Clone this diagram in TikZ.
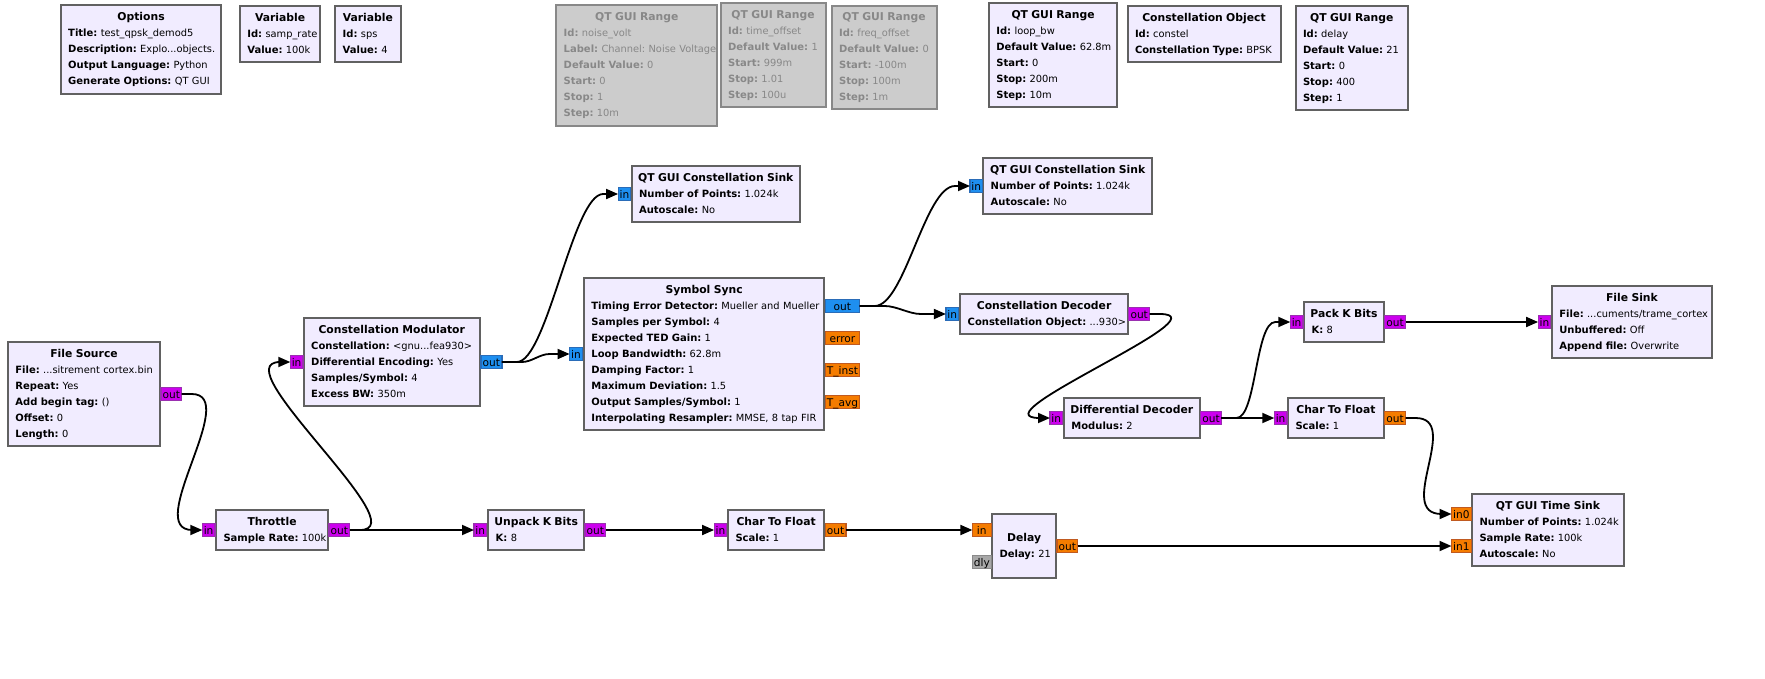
\documentclass[tikz,border=0pt]{standalone}
\usepackage{fontspec}
\setmainfont{DejaVu Sans}
\usetikzlibrary{arrows.meta}
\frenchspacing

\definecolor{blockbg}{HTML}{F1ECFF}
\definecolor{blockedge}{HTML}{616161}
\definecolor{cplxfill}{HTML}{1E8FF0}
\definecolor{cplxedge}{HTML}{2A6CB8}
\definecolor{bytefill}{HTML}{CC00EE}
\definecolor{byteedge}{HTML}{9A30B0}
\definecolor{fltfill}{HTML}{F57C00}
\definecolor{fltedge}{HTML}{C05A20}
\definecolor{msgfill}{HTML}{A8A8A8}
\definecolor{msgedge}{HTML}{8A8A8A}
\definecolor{offfill}{HTML}{CCCCCC}
\definecolor{offtext}{HTML}{888888}

\newcommand{\btitle}[1]{\makebox[\hsize][c]{\strut\fontsize{10.8}{16}\selectfont\textbf{#1}}\par}
\newcommand{\brow}[2]{\mbox{\strut\textbf{#1:} {\fontsize{9.85}{16}\selectfont #2}}\par}

\begin{document}
\begin{tikzpicture} [
    x=1pt, y=-1pt,
    every node/.style = { font=\fontsize{10}{16}\selectfont, outer sep=0pt },
    block/.style 2 args = { rectangle, draw=blockedge, fill=blockbg, line width=2pt,
                        anchor=north west, inner xsep=7.5pt, inner ysep=0pt, align=left,
                        xshift=-0.8pt, yshift=0.8pt,
                        minimum width=#1+1.6, minimum height=#2+1.6,
                        /utils/exec={\pgfmathsetmacro\blockw{#1-13.4}}, text width=\blockw pt },
    off/.style      = { fill=offfill, draw=offtext, text=offtext },
    port/.style     = { rectangle, line width=1.2pt, anchor=north west, inner sep=0pt,
                        font=\fontsize{10.6}{16}\selectfont,
                        minimum height=13.4, text height=10pt, text depth=2pt, minimum width=#1 },
    cport/.style    = { port=#1, fill=cplxfill, draw=cplxedge },
    bport/.style    = { port=#1, fill=bytefill, draw=byteedge },
    fport/.style    = { port=#1, fill=fltfill, draw=fltedge },
    gport/.style    = { port=#1, fill=msgfill, draw=msgedge },
    line/.style     = { draw, line width=1.8pt, -{Triangle[length=12pt,width=10pt]} },
    wire/.style 2 args = { line, to path={ -- ++(#1,0) .. controls +(#2,0) and ([xshift=-#1-#2]\tikztotarget) .. ([xshift=-#1]\tikztotarget) -- (\tikztotarget) } },
  ]
  \useasboundingbox (0,0) rectangle (1765,678);

  % variables along the top
  \node[block={159.1}{87.4}] (options) at (61.5,5.3) {\btitle{Options}\brow{Title}{test\_qpsk\_demod5}\brow{Description}{Explo...objects.}\brow{Output Language}{Python}\brow{Generate Options}{QT GUI}};
  \node[block={79}{55}] (samprate) at (240.6,6.3) {\btitle{Variable}\brow{Id}{samp\_rate}\brow{Value}{100k}};
  \node[block={63.7}{55}] (sps) at (336,6.3) {\btitle{Variable}\brow{Id}{sps}\brow{Value}{4}};
  \node[block={159.5}{119.4},off] (noise) at (557,5.3) {\btitle{QT GUI Range}\brow{Id}{noise\_volt}\brow{Label}{Channel: Noise Voltage}\brow{Default Value}{0}\brow{Start}{0}\brow{Stop}{1}\brow{Step}{10m}};
  \node[block={103.3}{102.6},off] (timeoff) at (721.4,3.7) {\btitle{QT GUI Range}\brow{Id}{time\_offset}\brow{Default Value}{1}\brow{Start}{999m}\brow{Stop}{1.01}\brow{Step}{100u}};
  \node[block={103.3}{102},off] (freqoff) at (832.4,6.3) {\btitle{QT GUI Range}\brow{Id}{freq\_offset}\brow{Default Value}{0}\brow{Start}{-100m}\brow{Stop}{100m}\brow{Step}{1m}};
  \node[block={127}{102.6}] (loopbw) at (989.6,3.7) {\btitle{QT GUI Range}\brow{Id}{loop\_bw}\brow{Default Value}{62.8m}\brow{Start}{0}\brow{Stop}{200m}\brow{Step}{10m}};
  \node[block={151.4}{55}] (constel) at (1128.3,6.3) {\btitle{Constellation Object}\brow{Id}{constel}\brow{Constellation Type}{BPSK}};
  \node[block={111}{103}] (delayvar) at (1296.3,6.3) {\btitle{QT GUI Range}\brow{Id}{delay}\brow{Default Value}{21}\brow{Start}{0}\brow{Stop}{400}\brow{Step}{1}};

  % flowgraph blocks
  \node[block={150.7}{102.3}] (filesrc) at (8.7,342.7) {\btitle{File Source}\brow{File}{...sitrement cortex.bin}\brow{Repeat}{Yes}\brow{Add begin tag}{()}\brow{Offset}{0}\brow{Length}{0}};
  \node[block={110.6}{38}] (throttle) at (216.8,511) {\btitle{Throttle}\brow{Sample Rate}{100k}};
  \node[block={174.5}{86.3}] (constmod) at (304.5,318.7) {\btitle{Constellation Modulator}\brow{Constellation}{<gnu...fea930>}\brow{Differential Encoding}{Yes}\brow{Samples/Symbol}{4}\brow{Excess BW}{350m}};
  \node[block={94.4}{38}] (unpack) at (489,511) {\btitle{Unpack K Bits}\brow{K}{8}};
  \node[block={94.7}{38}] (ctfa) at (728.8,511) {\btitle{Char To Float}\brow{Scale}{1}};
  \node[block={62.5}{62}] (delay) at (992.8,515) {\btitle{Delay}\brow{Delay}{21}};
  \node[block={167}{55}] (sinka) at (632.4,166.3) {\btitle{QT GUI Constellation Sink}\brow{Number of Points}{1.024k}\brow{Autoscale}{No}};
  \node[block={167.6}{55}] (sinkb) at (984,158.3) {\btitle{QT GUI Constellation Sink}\brow{Number of Points}{1.024k}\brow{Autoscale}{No}};
  \node[block={238.8}{150.6}] (symsync) at (584.7,278.7) {\btitle{Symbol Sync}\brow{Timing Error Detector}{Mueller and Mueller}\brow{Samples per Symbol}{4}\brow{Expected TED Gain}{1}\brow{Loop Bandwidth}{62.8m}\brow{Damping Factor}{1}\brow{Maximum Deviation}{1.5}\brow{Output Samples/Symbol}{1}\brow{Interpolating Resampler}{MMSE, 8 tap FIR}};
  \node[block={166.2}{38}] (constdec) at (961,295) {\btitle{Constellation Decoder}\brow{Constellation Object}{...930>}};
  \node[block={134.3}{38}] (diffdec) at (1064.7,399) {\btitle{Differential Decoder}\brow{Modulus}{2}};
  \node[block={78.2}{38}] (pack) at (1304.9,303) {\btitle{Pack K Bits}\brow{K}{8}};
  \node[block={94.3}{38}] (ctfb) at (1288.8,399) {\btitle{Char To Float}\brow{Scale}{1}};
  \node[block={158.9}{70}] (filesink) at (1552.6,287) {\btitle{File Sink}\brow{File}{...cuments/trame\_cortex}\brow{Unbuffered}{Off}\brow{Append file}{Overwrite}};
  \node[block={150.6}{70}] (timesink) at (1472.8,495) {\btitle{QT GUI Time Sink}\brow{Number of Points}{1.024k}\brow{Sample Rate}{100k}\brow{Autoscale}{No}};

  % ports
  \node[bport=20.8] (filesrcout) at (160.9,387.3) {out};
  \node[bport=12.6] (throttlein) at (202.3,523.3) {in};
  \node[bport=20.8] (throttleout) at (329,523.3) {out};
  \node[bport=12.6] (constmodin) at (290.3,355.3) {in};
  \node[cport=21] (constmodout) at (480.9,355.3) {out};
  \node[bport=12.6] (unpackin) at (474,523.3) {in};
  \node[bport=20.8] (unpackout) at (585,523.3) {out};
  \node[bport=12.6] (ctfain) at (714.1,523.3) {in};
  \node[fport=20.8] (ctfaout) at (825.1,523.3) {out};
  \node[fport=18.8] (delayin) at (972.4,523.3) {in};
  \node[gport=18.8] (delaydly) at (972.4,555.3) {dly};
  \node[fport=20.8] (delayout) at (1056.9,539.3) {out};
  \node[cport=12.6] (sinkain) at (618.1,187.3) {in};
  \node[cport=12.6] (sinkbin) at (970,179.3) {in};
  \node[cport=12.6] (symsyncin) at (569.6,347.3) {in};
  \node[cport=34.6] (symsyncout) at (825.1,299.3) {out};
  \node[fport=34.6] (symsyncerr) at (825.1,331.3) {error};
  \node[fport=34.6] (symsyncinst) at (825.1,363.3) {T\_inst};
  \node[fport=34.6] (symsyncavg) at (825.1,395.3) {T\_avg};
  \node[cport=12.6] (constdecin) at (945.9,307.3) {in};
  \node[bport=20.8] (constdecout) at (1128.8,307.3) {out};
  \node[bport=12.6] (diffdecin) at (1050,411.3) {in};
  \node[bport=20.8] (diffdecout) at (1200.6,411.3) {out};
  \node[bport=12.6] (packin) at (1290.3,315.3) {in};
  \node[bport=20.8] (packout) at (1384.7,315.3) {out};
  \node[bport=12.6] (ctfbin) at (1274.3,411.3) {in};
  \node[fport=20.8] (ctfbout) at (1384.7,411.3) {out};
  \node[bport=12.6] (filesinkin) at (1538.1,315.3) {in};
  \node[fport=19.6] (timesinka) at (1451.5,507.3) {in0};
  \node[fport=19.6] (timesinkb) at (1451.5,539.3) {in1};

  % connections
  \path [wire={10}{50}] (filesrcout.east) to (throttlein.west);
  \path [wire={10}{60}] (throttleout.east) to (constmodin.west);
  \path [line] (throttleout.east) -- (unpackin.west);
  \path [line] (unpackout.east) -- (ctfain.west);
  \path [line] (ctfaout.east) -- (delayin.west);
  \path [line] (delayout.east) -- (timesinkb.west);
  \path [wire={15}{30}] (constmodout.east) to (sinkain.west);
  \path [wire={20}{10}] (constmodout.east) to (symsyncin.west);
  \path [wire={15}{30}] (symsyncout.east) to (sinkbin.west);
  \path [wire={25}{12}] (symsyncout.east) to (constdecin.west);
  \path [wire={10}{68}] (constdecout.east) to (diffdecin.west);
  \path [wire={15}{20}] (diffdecout.east) to (packin.west);
  \path [line] (diffdecout.east) -- (ctfbin.west);
  \path [line] (packout.east) -- (filesinkin.west);
  \path [wire={10}{47}] (ctfbout.east) to (timesinka.west);
\end{tikzpicture}
\end{document}
